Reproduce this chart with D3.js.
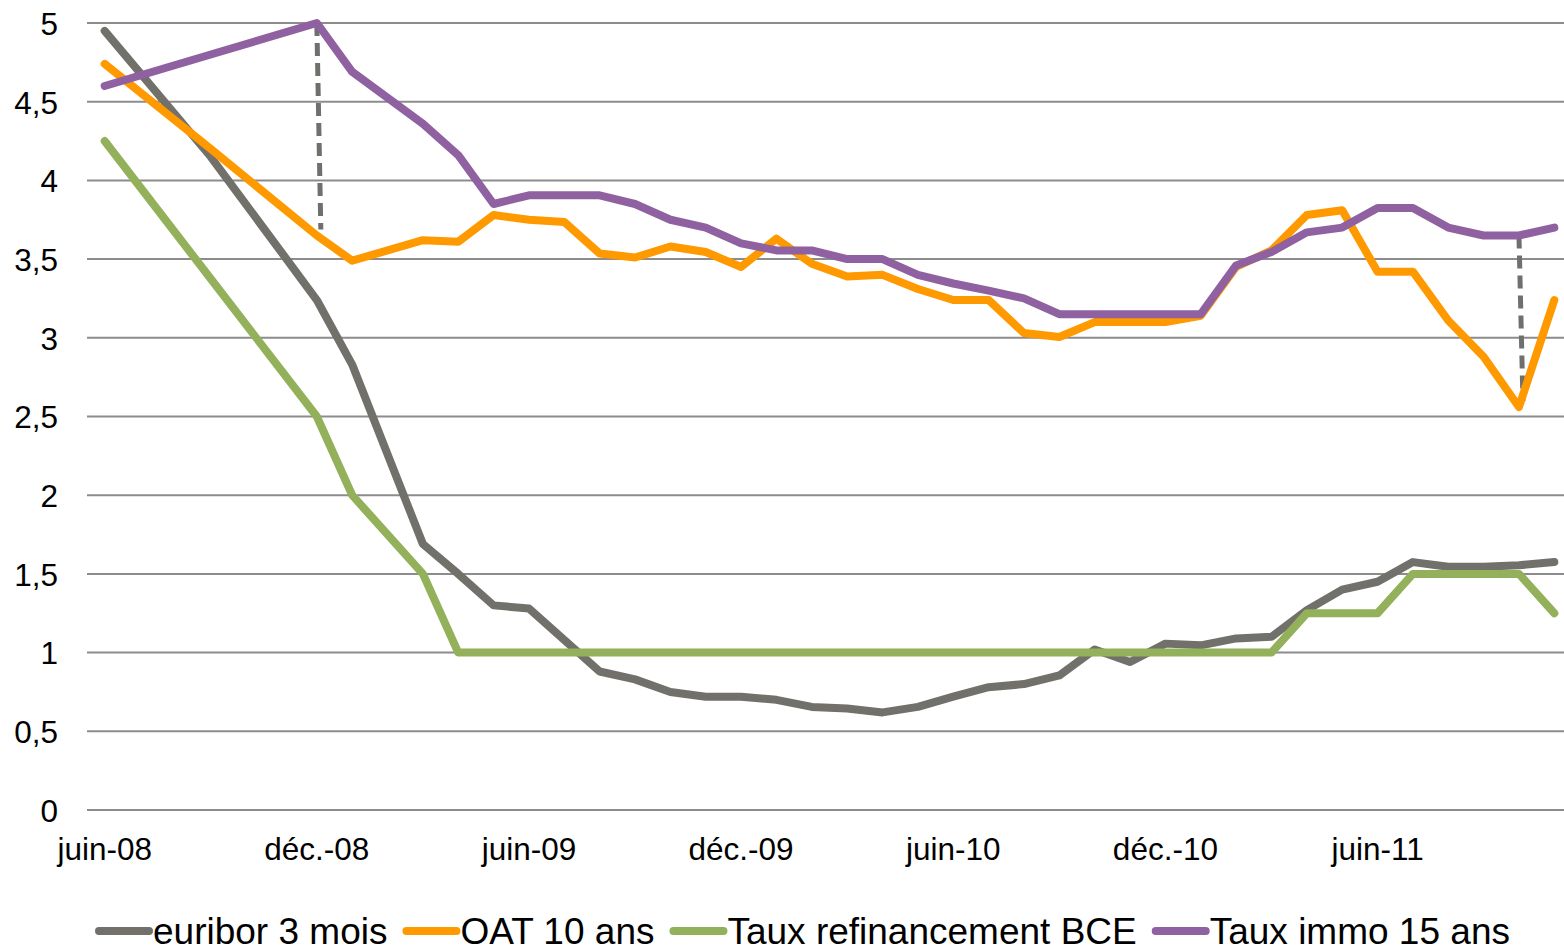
<!DOCTYPE html>
<html>

<head>
    <meta charset="utf-8">
    <script src="https://d3js.org/d3.v7.min.js"></script>
    <style>
        body {
            margin: 0;
            background: #fff;
        }

        svg text {
            font-family: "Liberation Sans", Arial, sans-serif;
            fill: #000;
        }
    </style>
</head>

<body>
    <div id="chart"></div>
    <script>

        // months shown on the category axis (juin-08 .. nov.-11)
        const months = ["juin-08", "juil.-08", "août-08", "sept.-08", "oct.-08", "nov.-08",
            "déc.-08", "janv.-09", "févr.-09", "mars-09", "avr.-09", "mai-09",
            "juin-09", "juil.-09", "août-09", "sept.-09", "oct.-09", "nov.-09",
            "déc.-09", "janv.-10", "févr.-10", "mars-10", "avr.-10", "mai-10",
            "juin-10", "juil.-10", "août-10", "sept.-10", "oct.-10", "nov.-10",
            "déc.-10", "janv.-11", "févr.-11", "mars-11", "avr.-11", "mai-11",
            "juin-11", "juil.-11", "août-11", "sept.-11", "oct.-11", "nov.-11"];

        const tickLabels = ["juin-08", "déc.-08", "juin-09", "déc.-09", "juin-10", "déc.-10", "juin-11"];
        const yTicks = [0, 0.5, 1, 1.5, 2, 2.5, 3, 3.5, 4, 4.5, 5];

        // null = no value that month, the line just joins the neighbours
        const euribor = [4.95, null, null, 4.15, null, null,
            3.24, 2.83, null, 1.69, 1.50, 1.30,
            1.28, 1.08, 0.88, 0.83, 0.75, 0.72,
            0.72, 0.70, 0.655, 0.645, 0.62, 0.655,
            0.72, 0.78, 0.80, 0.855, 1.02, 0.94,
            1.057, 1.046, 1.09, 1.10, 1.27, 1.40,
            1.45, 1.575, 1.545, 1.545, 1.555, 1.575];

        const oat = [4.74, null, null, 4.20, null, null,
            3.65, 3.49, null, 3.62, 3.61, 3.78,
            3.75, 3.735, 3.535, 3.51, 3.58, 3.545,
            3.45, 3.63, 3.47, 3.39, 3.40, 3.31,
            3.24, 3.24, 3.03, 3.005, 3.10, 3.10,
            3.10, 3.14, 3.45, 3.555, 3.78, 3.81,
            3.42, 3.42, 3.11, 2.88, 2.56, 3.24];

        const bce = [4.25, null, null, 3.375, null, null,
            2.5, 2.0, null, 1.5, 1.0, 1.0,
            1.0, 1.0, 1.0, 1.0, 1.0, 1.0,
            1.0, 1.0, 1.0, 1.0, 1.0, 1.0,
            1.0, 1.0, 1.0, 1.0, 1.0, 1.0,
            1.0, 1.0, 1.0, 1.0, 1.25, 1.25,
            1.25, 1.5, 1.5, 1.5, 1.5, 1.25];

        const immo = [4.60, null, null, 4.80, null, null,
            5.0, 4.69, null, 4.36, 4.16, 3.85,
            3.905, 3.905, 3.905, 3.85, 3.75, 3.70,
            3.60, 3.555, 3.555, 3.50, 3.50, 3.40,
            3.345, 3.30, 3.25, 3.15, 3.15, 3.15,
            3.15, 3.15, 3.46, 3.545, 3.67, 3.70,
            3.825, 3.825, 3.70, 3.65, 3.65, 3.70];

        const seriesNames = ["euribor 3 mois", "OAT 10 ans", "Taux refinancement BCE", "Taux immo 15 ans"];
        const seriesColors = ["#71706b", "#ff9900", "#93b05a", "#8f61a0"];
        const seriesValues = [euribor, oat, bce, immo];

        // dashed spread markers between immo and OAT
        const spreadMonths = ["déc.-08", "oct.-11"];

        const W = 1564, H = 948;
        const plot = { left: 87, right: 1572, top: 23, bottom: 810 };

        const svg = d3.select("#chart")
            .append("svg")
            .attr("width", W)
            .attr("height", H);

        const x = d3.scaleBand()
            .domain(months)
            .range([plot.left, plot.right]);

        const y = d3.scaleLinear()
            .domain([0, 5])
            .range([plot.bottom, plot.top]);

        const xc = m => x(m) + x.bandwidth() / 2;

        // horizontal grid
        svg.append("g")
            .selectAll("line")
            .data(yTicks)
            .join("line")
            .attr("x1", plot.left)
            .attr("x2", W)
            .attr("y1", d => y(d))
            .attr("y2", d => y(d))
            .attr("stroke", "#8c8c8c")
            .attr("stroke-width", 2);

        // Y axis labels
        const yAxis = svg.append("g")
            .attr("transform", `translate(${plot.left - 29},0)`)
            .call(d3.axisLeft(y).tickValues(yTicks).tickSize(0).tickPadding(0)
                .tickFormat(d => String(d).replace(".", ",")));
        yAxis.select(".domain").remove();
        yAxis.selectAll("text")
            .style("font-size", "31.5px")
            .attr("dy", "0.36em");

        // X axis labels
        const xAxis = svg.append("g")
            .attr("transform", `translate(0,${plot.bottom})`)
            .call(d3.axisBottom(x).tickValues(tickLabels).tickSize(0).tickPadding(0));
        xAxis.select(".domain").remove();
        xAxis.selectAll("text")
            .style("font-size", "31.5px")
            .attr("y", 50)
            .attr("dy", 0);

        // dashed spread lines
        svg.append("g")
            .selectAll("line")
            .data(spreadMonths)
            .join("line")
            .attr("x1", d => xc(d))
            .attr("x2", d => xc(d) + 4)
            .attr("y1", d => y(immo[months.indexOf(d)]))
            .attr("y2", d => y(oat[months.indexOf(d)]) - 6)
            .attr("stroke", "#6f6f6b")
            .attr("stroke-width", 5)
            .attr("stroke-dasharray", "13,7");

        // series lines
        const line = d3.line()
            .defined(d => d.v !== null)
            .x(d => xc(d.m))
            .y(d => y(d.v));

        svg.append("g")
            .selectAll("path")
            .data(seriesValues)
            .join("path")
            .attr("d", vals => line(vals.map((v, i) => ({ m: months[i], v })).filter(d => d.v !== null)))
            .attr("fill", "none")
            .attr("stroke", (d, i) => seriesColors[i])
            .attr("stroke-width", 8)
            .attr("stroke-linejoin", "round")
            .attr("stroke-linecap", "round");

        // legend
        const legend = svg.append("g").attr("transform", "translate(96,931)");
        let lx = 0;
        seriesNames.forEach((name, i) => {
            const g = legend.append("g").attr("transform", `translate(${lx},0)`);
            g.append("line")
                .attr("x1", 3).attr("x2", 53)
                .attr("y1", 0).attr("y2", 0)
                .attr("stroke", seriesColors[i])
                .attr("stroke-width", 8)
                .attr("stroke-linecap", "round");
            const t = g.append("text")
                .attr("x", 57)
                .attr("y", 13)
                .style("font-size", "37px")
                .text(name);
            lx += 57 + t.node().getComputedTextLength() + 16;
        });

    </script>
</body>

</html>
